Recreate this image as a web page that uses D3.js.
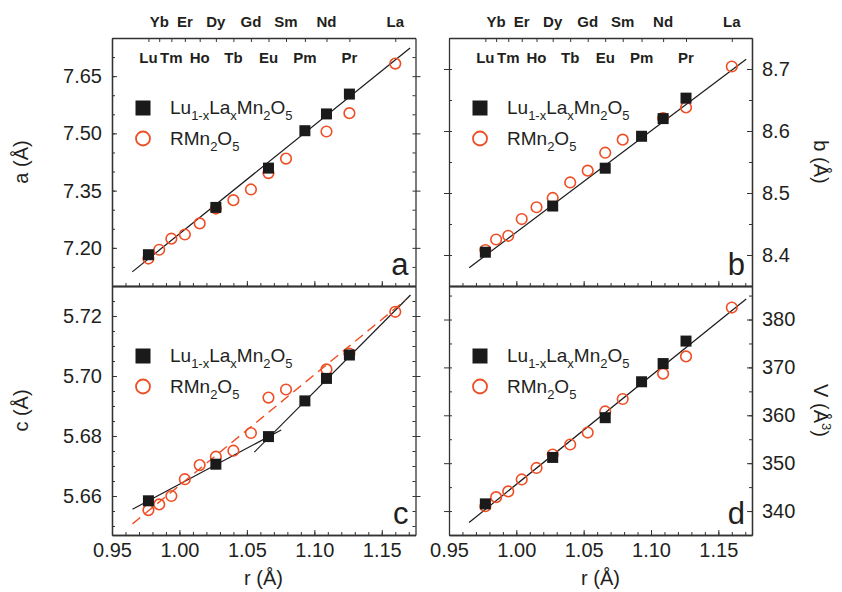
<!DOCTYPE html>
<html>
<head>
<meta charset="utf-8">
<script src="https://cdn.jsdelivr.net/npm/d3@7"></script>
<style>
  body { margin: 0; background: #fff; }
  svg { font-family: "Liberation Sans", Arial, sans-serif; }
  .tick text { fill: #231f20; font-size: 20px; }
  .elem { font-weight: bold; font-size: 15px; fill: #231f20; }
</style>
</head>
<body>
<div class="chart"></div>
<script>
// ionic radii of the rare earths (top labels)
const elements = ['Lu', 'Yb', 'Tm', 'Er', 'Ho', 'Dy', 'Tb', 'Gd', 'Eu', 'Sm', 'Pm', 'Nd', 'Pr', 'La'];
const radii = [0.977, 0.985, 0.994, 1.004, 1.015, 1.027, 1.04, 1.053, 1.066, 1.079, 1.093, 1.109, 1.126, 1.16];
const upperRow = ['Yb', 'Er', 'Dy', 'Gd', 'Sm', 'Nd', 'La'];

// Lu(1-x)La(x)Mn2O5 (filled squares)
const solidR = [0.977, 1.027, 1.066, 1.093, 1.109, 1.126];
const solidA = [7.182, 7.306, 7.409, 7.507, 7.551, 7.603];
const solidB = [8.4045, 8.479, 8.54, 8.5915, 8.62, 8.653];
const solidC = [5.6584, 5.6706, 5.6798, 5.6917, 5.6992, 5.707];
const solidV = [341.5, 351.2, 359.5, 367.0, 370.8, 375.5];

// RMn2O5 (open circles) - no Pm
const pureR = [0.977, 0.985, 0.994, 1.004, 1.015, 1.027, 1.04, 1.053, 1.066, 1.079, 1.109, 1.126, 1.16];
const pureA = [7.172, 7.195, 7.224, 7.235, 7.264, 7.303, 7.325, 7.353, 7.396, 7.434, 7.505, 7.553, 7.683];
const pureB = [8.408, 8.425, 8.431, 8.458, 8.477, 8.492, 8.517, 8.536, 8.565, 8.586, 8.621, 8.638, 8.704];
const pureC = [5.6553, 5.6572, 5.66, 5.6656, 5.6703, 5.6731, 5.6751, 5.681, 5.6928, 5.6955, 5.7022, 5.7075, 5.7214];
const pureV = [341.0, 342.9, 344.1, 346.6, 349.0, 351.8, 353.9, 356.4, 360.8, 363.4, 368.7, 372.3, 382.5];

// fitted lines (end points)
const fitA = [[0.965, 7.137], [1.171, 7.724]];
const fitB = [[0.965, 8.3795], [1.1707, 8.7157]];
const fitC1 = [[0.9652, 5.6556], [1.0754, 5.682]];
const fitC2 = [[1.0555, 5.6746], [1.1713, 5.727]];
const fitCdash = [[0.9652, 5.6507], [1.1675, 5.7253]];
const fitV = [[0.9649, 337.6], [1.1707, 384.3]];

const xTicks = [0.95, 1.0, 1.05, 1.1, 1.15];

const W = 842, H = 592;
const yTop = 38, yMid = 286, yBottom = 535;
const black = '#1a1a1a';
const red = '#ef4e25';

const svg = d3.select('.chart').append('svg').attr('width', W).attr('height', H);

const panels = [
  { x: [112, 415.5], y: [yMid, yTop], domain: [7.1, 7.75], major: [7.2, 7.35, 7.5, 7.65], fmt: '.2f', side: 'left',
    title: 'a (Å)', letter: 'a', solid: solidA, pure: pureA, fits: [fitA], dash: null, labels: true, bottomAxis: false },
  { x: [449, 752], y: [yMid, yTop], domain: [8.35, 8.75], major: [8.4, 8.5, 8.6, 8.7], fmt: '.1f', side: 'right',
    title: 'b (Å)', letter: 'b', solid: solidB, pure: pureB, fits: [fitB], dash: null, labels: true, bottomAxis: false },
  { x: [112, 415.5], y: [yBottom, yMid], domain: [5.647, 5.73], major: [5.66, 5.68, 5.7, 5.72], fmt: '.2f', side: 'left',
    title: 'c (Å)', letter: 'c', solid: solidC, pure: pureC, fits: [fitC1, fitC2], dash: fitCdash, labels: false, bottomAxis: true },
  { x: [449, 752], y: [yBottom, yMid], domain: [335, 387], major: [340, 350, 360, 370, 380], fmt: 'd', side: 'right',
    title: 'V (Å3)', letter: 'd', solid: solidV, pure: pureV, fits: [fitV], dash: null, labels: false, bottomAxis: true }
];

const noLabel = () => '';

// text with subscripts: pieces of [string, isSub]
function richText(sel, pieces) {
  let down = false;
  pieces.forEach(([s, sub]) => {
    const ts = sel.append('tspan').text(s);
    if (sub) {
      ts.attr('font-size', 13).attr('dy', down ? 0 : 6);
      down = true;
    } else {
      ts.attr('font-size', 19);
      if (down) ts.attr('dy', -6);
      down = false;
    }
  });
}

panels.forEach(p => {
  const x = d3.scaleLinear().domain([0.95, 1.175]).range(p.x);
  const y = d3.scaleLinear().domain(p.domain).range(p.y);
  const g = svg.append('g');
  const [x0, x1] = p.x;
  const [yb, yt] = p.y;

  // y axes, ticks pointing inward on both sides
  const leftG = g.append('g').attr('transform', `translate(${x0},0)`);
  const rightG = g.append('g').attr('transform', `translate(${x1},0)`);
  leftG.call(d3.axisLeft(y).tickValues(y.ticks(12)).tickSizeInner(-3).tickSizeOuter(0).tickFormat(noLabel));
  rightG.call(d3.axisRight(y).tickValues(y.ticks(12)).tickSizeInner(-3).tickSizeOuter(0).tickFormat(noLabel));
  leftG.selectAll('.tick text').remove();
  rightG.selectAll('.tick text').remove();
  const labelled = p.side === 'left' ? leftG : rightG;
  const otherG = p.side === 'left' ? rightG : leftG;
  const mk = p.side === 'left' ? d3.axisLeft : d3.axisRight;
  labelled.append('g').call(mk(y).tickValues(p.major).tickSizeInner(-5).tickSizeOuter(0).tickPadding(10).tickFormat(d3.format(p.fmt)));
  const og = otherG.append('g').call(mk(y).tickValues(p.major).tickSizeInner(-5).tickSizeOuter(0).tickFormat(noLabel));
  og.select('.domain').remove();
  og.selectAll('.tick text').remove();

  // bottom x axis (inward ticks)
  const bx = g.append('g').attr('transform', `translate(0,${yb})`);
  bx.call(d3.axisBottom(x).tickValues(x.ticks(22)).tickSizeInner(-3).tickSizeOuter(0).tickFormat(noLabel));
  bx.selectAll('.tick text').remove();
  const bxm = bx.append('g').call(d3.axisBottom(x).tickValues(xTicks).tickSizeInner(-5).tickSizeOuter(0).tickPadding(8)
    .tickFormat(d3.format('.2f')));
  if (!p.bottomAxis) bxm.selectAll('.tick text').remove();

  // top frame, with element ticks for upper panels
  const tx = g.append('g').attr('transform', `translate(0,${yt})`);
  tx.call(d3.axisTop(x).tickValues(p.labels ? radii : []).tickSizeInner(-4).tickSizeOuter(0).tickFormat(noLabel));
  tx.selectAll('.tick text').remove();

  g.selectAll('.domain').attr('stroke', '#333').attr('stroke-width', 1.3);
  g.selectAll('.tick line').attr('stroke', '#333').attr('stroke-width', 1);

  if (p.labels) {
    g.selectAll('.elem')
      .data(elements.map((e, i) => ({ e, r: radii[i] })))
      .enter()
      .append('text')
      .attr('class', 'elem')
      .attr('text-anchor', 'middle')
      .attr('x', d => x(d.r))
      .attr('y', d => (upperRow.includes(d.e) ? 26.5 : 62.5))
      .text(d => d.e);
  }

  const line = d3.line().x(d => x(d[0])).y(d => y(d[1]));
  p.fits.forEach(f => {
    g.append('path').attr('d', line(f)).attr('fill', 'none').attr('stroke', black).attr('stroke-width', 1.2);
  });
  if (p.dash) {
    g.append('path').attr('d', line(p.dash)).attr('fill', 'none').attr('stroke', red)
      .attr('stroke-width', 1.4).attr('stroke-dasharray', '10,6');
  }

  g.selectAll('.pure')
    .data(pureR.map((r, i) => [r, p.pure[i]]))
    .enter()
    .append('circle')
    .attr('class', 'pure')
    .attr('cx', d => x(d[0]))
    .attr('cy', d => y(d[1]))
    .attr('r', 5.3)
    .attr('fill', 'none')
    .attr('stroke', red)
    .attr('stroke-width', 1.6);

  g.selectAll('.solid')
    .data(solidR.map((r, i) => [r, p.solid[i]]))
    .enter()
    .append('rect')
    .attr('class', 'solid')
    .attr('x', d => x(d[0]) - 5.5)
    .attr('y', d => y(d[1]) - 5.5)
    .attr('width', 11)
    .attr('height', 11)
    .attr('fill', black);

  // legend
  const lx = x0 + 31;
  const ly = yt + 70;
  g.append('rect').attr('x', lx - 7.5).attr('y', ly - 7.5).attr('width', 15).attr('height', 15).attr('fill', black);
  g.append('circle').attr('cx', lx).attr('cy', ly + 30.5).attr('r', 7).attr('fill', 'none')
    .attr('stroke', red).attr('stroke-width', 1.8);

  const t1 = g.append('text').attr('x', lx + 27).attr('y', ly + 6).attr('font-size', 19).attr('fill', '#231f20');
  richText(t1, [['Lu', 0], ['1-x', 1], ['La', 0], ['x', 1], ['Mn', 0], ['2', 1], ['O', 0], ['5', 1]]);
  const t2 = g.append('text').attr('x', lx + 27).attr('y', ly + 37).attr('font-size', 19).attr('fill', '#231f20');
  richText(t2, [['RMn', 0], ['2', 1], ['O', 0], ['5', 1]]);

  // panel letter
  g.append('text').attr('x', x1 - 7).attr('y', yb - 11).attr('text-anchor', 'end')
    .attr('font-size', 31).attr('fill', '#231f20').text(p.letter);

  // axis title
  const midY = (yb + yt) / 2;
  const title = g.append('text').attr('text-anchor', 'middle').attr('font-size', 20).attr('fill', '#231f20');
  if (p.side === 'left') {
    title.attr('transform', `translate(28,${midY}) rotate(-90)`);
  } else {
    title.attr('transform', `translate(814,${midY}) rotate(90)`);
  }
  if (p.title.endsWith('3)')) {
    title.append('tspan').text('V (Å');
    title.append('tspan').attr('font-size', 13).attr('dy', -8).text('3');
    title.append('tspan').attr('dy', 8).text(')');
  } else {
    title.text(p.title);
  }
});

// x titles
[263.5, 600.5].forEach(cx => {
  svg.append('text').attr('x', cx).attr('y', 585).attr('text-anchor', 'middle')
    .attr('font-size', 20).attr('fill', '#231f20').text('r (Å)');
});
</script>
</body>
</html>
